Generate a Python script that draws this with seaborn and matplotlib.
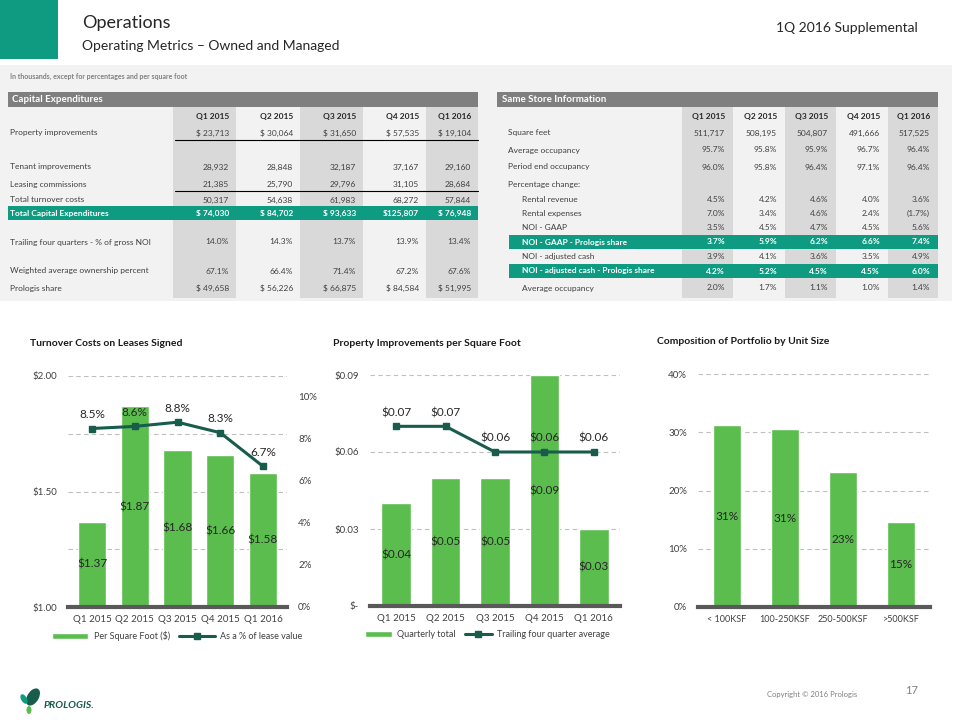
import numpy as np
import matplotlib
matplotlib.use("Agg")
import matplotlib.pyplot as plt
from matplotlib.patches import Rectangle, Patch, Ellipse
from matplotlib.lines import Line2D
import seaborn as sns

# --- data ---
quarters = ["Q1 2015", "Q2 2015", "Q3 2015", "Q4 2015", "Q1 2016"]

capex_rows = [
    ("Property improvements", ["$ 23,713", "$ 30,064", "$ 31,650", "$ 57,535", "$ 19,104"]),
    ("Tenant improvements", ["28,932", "28,848", "32,187", "37,167", "29,160"]),
    ("Leasing commissions", ["21,385", "25,790", "29,796", "31,105", "28,684"]),
    ("Total turnover costs", ["50,317", "54,638", "61,983", "68,272", "57,844"]),
    ("Total Capital Expenditures", ["$ 74,030", "$ 84,702", "$ 93,633", "$125,807", "$ 76,948"]),
    ("Trailing four quarters - % of gross NOI", ["14.0%", "14.3%", "13.7%", "13.9%", "13.4%"]),
    ("Weighted average ownership percent", ["67.1%", "66.4%", "71.4%", "67.2%", "67.6%"]),
    ("Prologis share", ["$ 49,658", "$ 56,226", "$ 66,875", "$ 84,584", "$ 51,995"]),
]
capex_row_y = [133, 167, 184, 200, 213, 242, 271, 288]
capex_underline = ["Property improvements", "Leasing commissions"]
capex_highlight = ["Total Capital Expenditures"]

store_rows = [
    ("Square feet", ["511,717", "508,195", "504,807", "491,666", "517,525"]),
    ("Average occupancy", ["95.7%", "95.8%", "95.9%", "96.7%", "96.4%"]),
    ("Period end occupancy", ["96.0%", "95.8%", "96.4%", "97.1%", "96.4%"]),
    ("Percentage change:", ["", "", "", "", ""]),
    ("Rental revenue", ["4.5%", "4.2%", "4.6%", "4.0%", "3.6%"]),
    ("Rental expenses", ["7.0%", "3.4%", "4.6%", "2.4%", "(1.7%)"]),
    ("NOI - GAAP", ["3.5%", "4.5%", "4.7%", "4.5%", "5.6%"]),
    ("NOI - GAAP - Prologis share", ["3.7%", "5.9%", "6.2%", "6.6%", "7.4%"]),
    ("NOI - adjusted cash", ["3.9%", "4.1%", "3.6%", "3.5%", "4.9%"]),
    ("NOI - adjusted cash - Prologis share", ["4.2%", "5.2%", "4.5%", "4.5%", "6.0%"]),
    ("Average occupancy ", ["2.0%", "1.7%", "1.1%", "1.0%", "1.4%"]),
]
store_row_y = [133, 150, 167, 184, 200, 213, 227, 242, 256, 271, 288]
store_indent = ["Rental revenue", "Rental expenses", "NOI - GAAP", "NOI - GAAP - Prologis share",
                "NOI - adjusted cash", "NOI - adjusted cash - Prologis share", "Average occupancy "]
store_highlight = ["NOI - GAAP - Prologis share", "NOI - adjusted cash - Prologis share"]

turnover_psf = [1.37, 1.87, 1.68, 1.66, 1.58]
turnover_pct = [8.5, 8.6, 8.8, 8.3, 6.7]

prop_quarterly = [0.04, 0.05, 0.05, 0.09, 0.03]
prop_trailing = [0.07, 0.07, 0.06, 0.06, 0.06]

unit_sizes = ["< 100KSF", "100-250KSF", "250-500KSF", ">500KSF"]
unit_share = [31.2, 30.5, 23.2, 14.6]
unit_labels = ["31%", "31%", "23%", "15%"]

GREEN = "#5cbd4f"
TEAL = "#0f9a82"
LINE = "#175c4c"
TXT = "#404040"
GRID = "#bfbfbf"

W, H = 960, 720

sns.set_theme(style="white")
plt.rcParams["font.family"] = ["Lato", "DejaVu Sans"]

fig = plt.figure(figsize=(W / 100, H / 100), dpi=100)


def fx(x):
    return x / W


def fy(y):
    return 1 - y / H


def rect(x0, y0, x1, y1, color, z=0):
    fig.add_artist(Rectangle((fx(x0), fy(y1)), (x1 - x0) / W, (y1 - y0) / H,
                             transform=fig.transFigure, facecolor=color,
                             edgecolor="none", zorder=z))


def txt(x, y, s, **kw):
    kw.setdefault("va", "center")
    kw.setdefault("color", TXT)
    fig.text(fx(x), fy(y), s, **kw)


# --- header ---
rect(0, 0, 58, 59, TEAL)
txt(82, 23, "Operations", fontsize=13, color="#262626")
txt(82, 46, "Operating Metrics \u2013 Owned and Managed", fontsize=10, color="#262626")
txt(918, 28, "1Q 2016 Supplemental", fontsize=10, color="#262626", ha="right")

# --- table panel ---
rect(0, 65, 952, 301, "#f2f2f2")
txt(10, 76, "In thousands, except for percentages and per square foot", fontsize=5,
    color="#808080", fontweight="bold")

# capital expenditures table
cap_cols = [173, 236, 300, 363, 426, 478]
rect(8, 92, 478, 107, "#7f7f7f", 1)
txt(12, 100, "Capital Expenditures", fontsize=7, color="white", fontweight="bold")
for i in range(0, 5, 2):
    rect(cap_cols[i], 107, cap_cols[i + 1], 298, "#d9d9d9", 1)
for i, q in enumerate(quarters):
    txt(cap_cols[i + 1] - 7, 117, q, fontsize=6, ha="right", fontweight="bold", color="#262626", zorder=3)
for (label, vals), y in zip(capex_rows, capex_row_y):
    hl = label in capex_highlight
    if hl:
        rect(8, y - 7, 478, y + 7, TEAL, 2)
    c = "white" if hl else TXT
    fw = "bold" if hl else "normal"
    txt(10, y, label, fontsize=6, color=c, fontweight=fw, zorder=3)
    for i, v in enumerate(vals):
        txt(cap_cols[i + 1] - 7, y, v, fontsize=6, ha="right", color=c, fontweight=fw, zorder=3)
    if label in capex_underline:
        fig.add_artist(Line2D([fx(cap_cols[0] + 2), fx(cap_cols[-1])], [fy(y + 7), fy(y + 7)],
                              transform=fig.transFigure, color="black", lw=0.8, zorder=3))

# same store table
st_cols = [682, 733, 785, 836, 888, 938]
rect(497, 92, 938, 107, "#7f7f7f", 1)
txt(502, 100, "Same Store Information", fontsize=7, color="white", fontweight="bold")
for i in range(0, 5, 2):
    rect(st_cols[i], 107, st_cols[i + 1], 298, "#d9d9d9", 1)
for i, q in enumerate(quarters):
    txt(st_cols[i + 1] - 8, 117, q, fontsize=6, ha="right", fontweight="bold", color="#262626", zorder=3)
for (label, vals), y in zip(store_rows, store_row_y):
    hl = label in store_highlight
    if hl:
        rect(509, y - 7, 938, y + 7, TEAL, 2)
    c = "white" if hl else TXT
    fw = "bold" if hl else "normal"
    lx = 522 if label in store_indent else 508
    txt(lx, y, label.strip(), fontsize=6, color=c, fontweight=fw, zorder=3)
    for i, v in enumerate(vals):
        txt(st_cols[i + 1] - 8, y, v, fontsize=6, ha="right", color=c, fontweight=fw, zorder=3)


# --- charts ---
def axes_px(left, top, right, bottom):
    return fig.add_axes([fx(left), fy(bottom), (right - left) / W, (bottom - top) / H])


def style_ax(ax):
    for s in ["top", "right", "left"]:
        ax.spines[s].set_visible(False)
    ax.spines["bottom"].set_color("#595959")
    ax.spines["bottom"].set_linewidth(3)
    ax.set_facecolor("none")
    ax.grid(axis="y", ls=(0, (4, 3)), color=GRID, lw=0.8)
    ax.set_axisbelow(True)
    ax.tick_params(length=0, labelsize=7, colors=TXT)
    ax.tick_params(axis="x", pad=6)
    ax.tick_params(axis="y", pad=8)
    ax.set_xlabel("")
    ax.set_ylabel("")


# chart 1: turnover costs
ax1 = axes_px(68, 376, 287, 607)
sns.barplot(x=quarters, y=turnover_psf, color=GREEN, saturation=1, width=0.66, ax=ax1)
ax1.set_ylim(1.0, 2.0)
ticks1 = [1.0, 1.25, 1.5, 1.75, 2.0]
ax1.set_yticks(ticks1)
ax1.set_yticklabels([f"${t:.2f}" if t in (1.0, 1.5, 2.0) else "" for t in ticks1])
style_ax(ax1)
for i, v in enumerate(turnover_psf):
    ax1.text(i, (1.0 + v) / 2, f"${v:.2f}", ha="center", va="center", fontsize=8.5, color="#262626")
ax1b = ax1.twinx()
ax1b.plot(range(len(quarters)), turnover_pct, color=LINE, lw=2.2, marker="s", ms=4.5)
ax1b.set_ylim(0, 11)
ax1b.set_yticks(range(0, 11, 2))
ax1b.set_yticklabels([f"{t}%" for t in range(0, 11, 2)])
for s in ax1b.spines.values():
    s.set_visible(False)
ax1b.tick_params(length=0, labelsize=7, colors=TXT, pad=8)
ax1b.grid(False)
for i, v in enumerate(turnover_pct):
    ax1b.annotate(f"{v}%", (i, v), xytext=(0, 6), textcoords="offset points",
                  ha="center", va="bottom", fontsize=8.5, color="#262626")
ax1.legend(handles=[Patch(facecolor=GREEN, label="Per Square Foot ($)"),
                    Line2D([0], [0], color=LINE, lw=2.2, marker="s", ms=4, label="As a % of lease value")],
           loc="upper center", bbox_to_anchor=(0.5, -0.07), ncol=2, frameon=False, fontsize=6.5,
           handlelength=4, handleheight=0.6, columnspacing=1.0, handletextpad=0.6,
           labelcolor=TXT)

# chart 2: property improvements
ax2 = axes_px(370, 375, 620, 606)
sns.barplot(x=quarters, y=prop_quarterly, color=GREEN, saturation=1, width=0.6, ax=ax2)
ax2.set_ylim(0, 0.09)
ticks2 = [0, 0.03, 0.06, 0.09]
ax2.set_yticks(ticks2)
ax2.set_yticklabels(["$-" if t == 0 else f"${t:.2f}" for t in ticks2])
style_ax(ax2)
for i, v in enumerate(prop_quarterly):
    ax2.text(i, v / 2, f"${v:.2f}", ha="center", va="center", fontsize=8.5, color="#262626")
ax2.plot(range(len(quarters)), prop_trailing, color=LINE, lw=2.2, marker="s", ms=4.5)
for i, v in enumerate(prop_trailing):
    ax2.annotate(f"${v:.2f}", (i, v), xytext=(0, 6), textcoords="offset points",
                 ha="center", va="bottom", fontsize=8.5, color="#262626")
ax2.legend(handles=[Patch(facecolor=GREEN, label="Quarterly total"),
                    Line2D([0], [0], color=LINE, lw=2.2, marker="s", ms=4, label="Trailing four quarter average")],
           loc="upper center", bbox_to_anchor=(0.47, -0.07), ncol=2, frameon=False, fontsize=6.5,
           handlelength=3, handleheight=0.6, columnspacing=1.0, handletextpad=0.6,
           labelcolor=TXT)

# chart 3: unit size
ax3 = axes_px(698, 374, 930, 607)
sns.barplot(x=unit_sizes, y=unit_share, color=GREEN, saturation=1, width=0.48, ax=ax3)
ax3.set_ylim(0, 40)
ax3.set_yticks(range(0, 41, 10))
ax3.set_yticklabels([f"{t}%" for t in range(0, 41, 10)])
style_ax(ax3)
ax3.tick_params(axis="x", labelsize=6.5)
for i, (v, s) in enumerate(zip(unit_share, unit_labels)):
    ax3.text(i, v / 2, s, ha="center", va="center", fontsize=8.5, color="#262626")

# chart titles
txt(30, 343, "Turnover Costs on Leases Signed", fontsize=7.5, fontweight="bold", color="#1a1a1a")
txt(333, 343, "Property Improvements per Square Foot", fontsize=7.5, fontweight="bold", color="#1a1a1a")
txt(657, 342, "Composition of Portfolio by Unit Size", fontsize=7.5, fontweight="bold", color="#1a1a1a")

# --- footer ---
fig.add_artist(Ellipse((fx(33), fy(697)), 12 / W, 18 / H, angle=-20, transform=fig.transFigure,
                       facecolor=LINE, edgecolor="none"))
fig.add_artist(Ellipse((fx(24), fy(699)), 6 / W, 10 / H, angle=20, transform=fig.transFigure,
                       facecolor=TEAL, edgecolor="none"))
fig.add_artist(Ellipse((fx(29), fy(710)), 5 / W, 8 / H, angle=0, transform=fig.transFigure,
                       facecolor=GREEN, edgecolor="none"))
txt(44, 705, "PROLOGIS.", fontsize=7.5, fontweight="bold", style="italic", color=LINE)
txt(857, 695, "Copyright \u00a9 2016 Prologis", fontsize=5.5, color="#808080", ha="right")
txt(918, 690, "17", fontsize=8, color="#808080", ha="right")

fig.savefig("out.png", dpi=100)
